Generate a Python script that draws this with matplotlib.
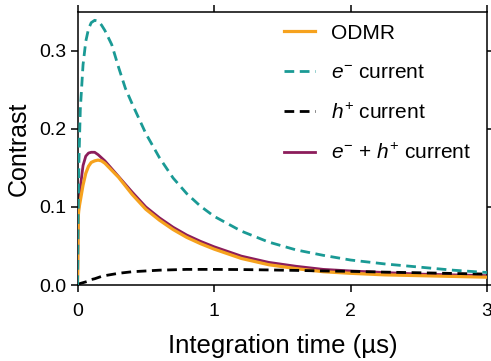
import matplotlib
matplotlib.use("Agg")  # no GUI, save to file only
import matplotlib.pyplot as plt

plt.rcParams["font.family"] = ["Liberation Sans", "DejaVu Sans"]
plt.rcParams["mathtext.fontset"] = "custom"
plt.rcParams["mathtext.rm"] = "Liberation Sans"
plt.rcParams["mathtext.it"] = "Liberation Sans:italic"

# --- data (time in us) ---
t = [0, 0.003, 0.006, 0.01, 0.02, 0.04, 0.06, 0.08, 0.1, 0.125, 0.15, 0.175,
     0.2, 0.25, 0.3, 0.35, 0.4, 0.5, 0.6, 0.7, 0.8, 0.9, 1.0, 1.2, 1.4, 1.6,
     1.8, 2.0, 2.25, 2.5, 2.75, 3.0]

odmr = [0, 0.06, 0.09, 0.098, 0.108, 0.128, 0.143, 0.152, 0.157, 0.159, 0.160, 0.159,
        0.156, 0.147, 0.138, 0.127, 0.116, 0.097, 0.083, 0.071, 0.061, 0.053, 0.046,
        0.034, 0.026, 0.021, 0.017, 0.015, 0.013, 0.012, 0.011, 0.010]

e_current = [0, 0.07, 0.11, 0.16, 0.225, 0.282, 0.312, 0.328, 0.336, 0.339, 0.338, 0.333,
             0.326, 0.308, 0.279, 0.252, 0.232, 0.194, 0.163, 0.137, 0.117, 0.101, 0.088,
             0.069, 0.055, 0.045, 0.038, 0.032, 0.027, 0.023, 0.019, 0.016]

h_current = [0, 0.0003, 0.0006, 0.001, 0.002, 0.003, 0.004, 0.005, 0.007, 0.008, 0.0095, 0.011,
             0.012, 0.0135, 0.015, 0.016, 0.017, 0.018, 0.019, 0.0195, 0.020, 0.020, 0.020,
             0.0198, 0.0193, 0.0187, 0.018, 0.0175, 0.0165, 0.0157, 0.0148, 0.014]

eh_current = [0, 0.06, 0.09, 0.102, 0.125, 0.153, 0.165, 0.169, 0.170, 0.170, 0.167, 0.163,
              0.159, 0.149, 0.139, 0.129, 0.119, 0.100, 0.086, 0.074, 0.064, 0.056, 0.049,
              0.037, 0.029, 0.024, 0.020, 0.018, 0.016, 0.014, 0.013, 0.012]

ORANGE = "#F6A21E"
TEAL = "#1A9A95"
BLACK = "#000000"
PLUM = "#8C1D5B"

fig = plt.figure(figsize=(4.91, 3.61), dpi=100)
ax = fig.add_axes([0.158, 0.2105, 0.834, 0.757])

# draw order: plum under orange, dashed curves on top
l_eh, = ax.plot(t, eh_current, color=PLUM, lw=2.0, zorder=2)
l_odmr, = ax.plot(t, odmr, color=ORANGE, lw=2.3, zorder=3)
l_h, = ax.plot(t, h_current, color=BLACK, lw=2.0, ls=(0, (3.5, 2)), zorder=4)
l_e, = ax.plot(t, e_current, color=TEAL, lw=2.0, ls=(0, (3.5, 2)), zorder=5)

ax.set_xlim(0, 3)
ax.set_ylim(0, 0.35)
ax.set_xticks([0, 1, 2, 3])
ax.set_yticks([0.0, 0.1, 0.2, 0.3])
ax.set_yticklabels(["0.0", "0.1", "0.2", "0.3"])

ax.tick_params(direction="out", length=5, width=1.1, labelsize=14,
               top=True, right=True, labeltop=False, labelright=False)
ax.tick_params(axis="x", pad=8)
ax.tick_params(axis="y", pad=3)
for sp in ax.spines.values():
    sp.set_linewidth(1.1)

ax.set_xlabel("Integration time (\u00b5s)", fontsize=18.5, labelpad=10)
ax.set_ylabel("Contrast", fontsize=18, labelpad=6)

ax.legend([l_odmr, l_e, l_h, l_eh],
          ["ODMR", r"$e^{-}$ current", r"$h^{+}$ current", r"$e^{-}$ + $h^{+}$ current"],
          loc="upper left", bbox_to_anchor=(0.468, 1.01), frameon=False,
          fontsize=15, handlelength=1.5, handletextpad=0.75, labelspacing=0.98,
          borderaxespad=0.3)

fig.savefig("out.png", dpi=100)
